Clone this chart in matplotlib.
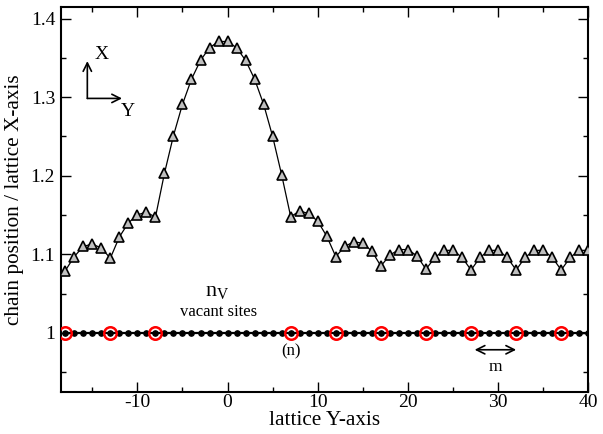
import matplotlib
matplotlib.use("Agg")
import matplotlib.pyplot as plt
from matplotlib.ticker import MultipleLocator, FuncFormatter

# ---- data ----
lattice_y = list(range(-18, 41))
chain_x = [1.079, 1.097, 1.110, 1.113, 1.108, 1.095, 1.122, 1.140, 1.150, 1.154,
           1.147, 1.203, 1.251, 1.291, 1.323, 1.347, 1.363, 1.371, 1.371, 1.363,
           1.347, 1.323, 1.291, 1.250, 1.201, 1.148, 1.155, 1.152, 1.142, 1.123,
           1.097, 1.110, 1.116, 1.114, 1.104, 1.085, 1.099, 1.106, 1.106, 1.098,
           1.081, 1.096, 1.105, 1.105, 1.096, 1.080, 1.096, 1.105, 1.105, 1.096,
           1.080, 1.096, 1.105, 1.105, 1.096, 1.080, 1.096, 1.105, 1.105]
lattice_row = [1.0] * len(lattice_y)
vacancies = [-18, -13, -8, 7, 12, 17, 22, 27, 32, 37]
vacancy_row = [1.0] * len(vacancies)

plt.rcParams['font.family'] = ['Liberation Serif', 'DejaVu Serif']
plt.rcParams['mathtext.fontset'] = 'stix'
plt.rcParams['mathtext.default'] = 'regular'
plt.rcParams['axes.unicode_minus'] = False

fig = plt.figure(figsize=(6.03, 4.34), dpi=100)
ax = fig.add_axes([0.1007, 0.0975, 0.8749, 0.8865])

# lattice row
ax.plot(lattice_y, lattice_row, color='black', lw=1.6, marker='o', ms=3.8,
        mfc='black', mec='black', zorder=2)
ax.plot(vacancies, vacancy_row, ls='none', marker='o', ms=9, mfc='none',
        mec='red', mew=1.8, zorder=3)

# chain
ax.plot(lattice_y, chain_x, color='black', lw=0.9, marker='^', ms=6.8,
        mfc='0.75', mec='black', mew=1.2, zorder=4)

ax.set_xlim(-18.5, 40)
ax.set_ylim(0.925, 1.415)

ax.xaxis.set_major_locator(MultipleLocator(10))
ax.xaxis.set_minor_locator(MultipleLocator(5))
ax.yaxis.set_major_locator(MultipleLocator(0.1))
ax.yaxis.set_minor_locator(MultipleLocator(0.05))
ax.yaxis.set_major_formatter(FuncFormatter(lambda v, p: ('%g' % round(v, 2))))

ax.tick_params(which='both', direction='in', top=True, right=True, width=1.0,
               labelsize=14)
ax.tick_params(axis='x', which='both', pad=1.5)
ax.tick_params(axis='y', which='both', pad=4)
ax.tick_params(which='major', length=7)
ax.tick_params(which='minor', length=3.5)
for s in ax.spines.values():
    s.set_linewidth(1.5)

ax.set_xlabel('lattice Y-axis', fontsize=15.3, labelpad=0)
ax.set_ylabel('chain position / lattice X-axis', fontsize=15.3, labelpad=5)

# orientation arrows
ax.annotate('', xy=(-15.55, 1.346), xytext=(-15.55, 1.2985),
            arrowprops=dict(arrowstyle='->', lw=1.2, color='black',
                            shrinkA=0, shrinkB=0, mutation_scale=15))
ax.annotate('', xy=(-11.7, 1.2985), xytext=(-15.55, 1.2985),
            arrowprops=dict(arrowstyle='->', lw=1.2, color='black',
                            shrinkA=0, shrinkB=0, mutation_scale=15))
ax.text(-13.95, 1.3545, 'X', fontsize=14, ha='center', va='center')
ax.text(-11.0, 1.282, 'Y', fontsize=14, ha='center', va='center')

# annotations
ax.text(-1.1, 1.052, 'n$_{V}$', fontsize=16, ha='center', va='center')
ax.text(-0.97, 1.0269, 'vacant sites', fontsize=12, ha='center', va='center')
ax.text(7.08, 0.9765, '(n)', fontsize=12, ha='center', va='center')
ax.annotate('', xy=(32.0, 0.9784), xytext=(27.4, 0.9784),
            arrowprops=dict(arrowstyle='<->', lw=1.2, color='black',
                            shrinkA=0, shrinkB=0, mutation_scale=15))
ax.text(29.7, 0.956, 'm', fontsize=12.5, ha='center', va='center')

fig.savefig('out.png', dpi=100)
